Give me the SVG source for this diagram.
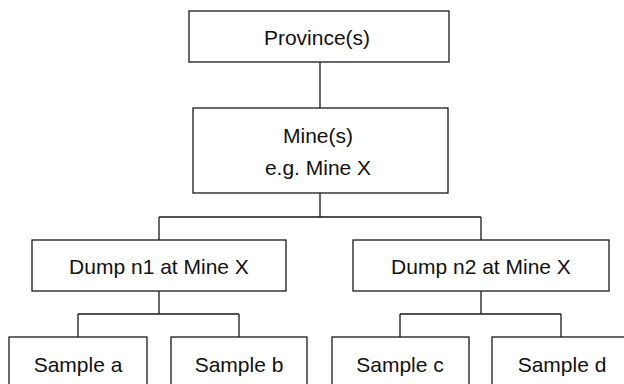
<svg xmlns="http://www.w3.org/2000/svg" width="624" height="384" viewBox="0 0 624 384">
<style>
.box{fill:#fff;stroke:#1a1a1a;stroke-width:1.3}
.ln{fill:none;stroke:#1a1a1a;stroke-width:1.3}
text{font-family:"Liberation Sans",Arial,sans-serif;font-size:21px;fill:#111;text-anchor:middle}
</style>
<rect width="624" height="384" fill="#fff"/>
<g id="connectors">
<path class="ln" d="M320 62V108"/>
<path class="ln" d="M320 193V217M159 217H481M159 217V240M481 217V240"/>
<path class="ln" d="M159 291V314M78 314H239M78 314V337M239 314V337"/>
<path class="ln" d="M481 291V314M400 314H561M400 314V337M561 314V337"/>
</g>
<g id="province"><rect class="box" x="189" y="11" width="260" height="51"/><text x="317" y="45">Province(s)</text></g>
<g id="mine"><rect class="box" x="193" y="108" width="255" height="85"/><text x="318" y="143">Mine(s)</text><text x="318" y="175">e.g. Mine X</text></g>
<g id="dump1"><rect class="box" x="32" y="240" width="254" height="51"/><text x="159" y="274">Dump n1 at Mine X</text></g>
<g id="dump2"><rect class="box" x="353" y="240" width="256" height="51"/><text x="481" y="274">Dump n2 at Mine X</text></g>
<g id="sample-a"><rect class="box" x="9" y="337" width="138" height="60"/><text x="78" y="372">Sample a</text></g>
<g id="sample-b"><rect class="box" x="171" y="337" width="136" height="60"/><text x="239" y="372">Sample b</text></g>
<g id="sample-c"><rect class="box" x="332" y="337" width="137" height="60"/><text x="400" y="372">Sample c</text></g>
<g id="sample-d"><rect class="box" x="492" y="337" width="138" height="60"/><text x="562" y="372">Sample d</text></g>
</svg>
